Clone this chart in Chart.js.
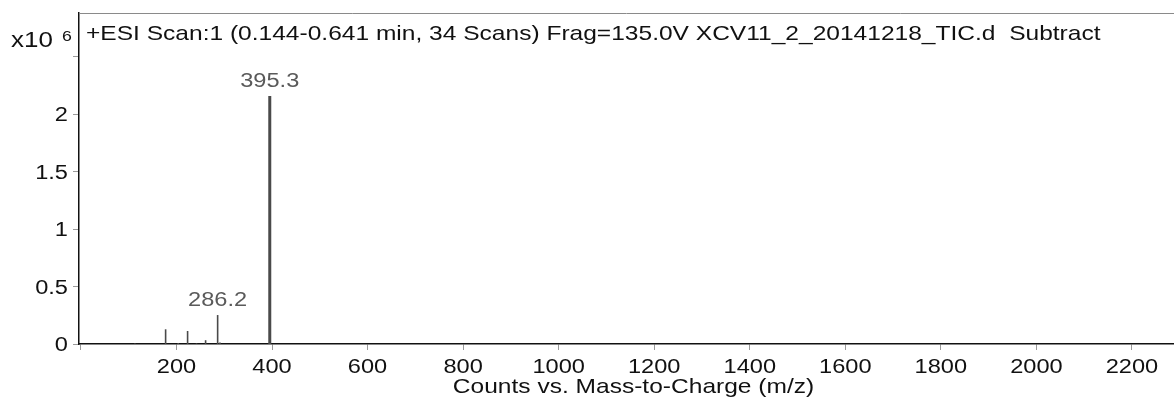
<!DOCTYPE html>
<html lang="en">
<head>
    <meta charset="UTF-8">
    <title>ESI Scan spectrum</title>
    <script src="https://cdn.jsdelivr.net/npm/chart.js"></script>
    <style>
        html, body { margin: 0; padding: 0; background: #fff; }
        #wrap { width: 1174px; height: 402px; }
    </style>
</head>
<body>
    <div id="wrap"><canvas id="spectro"></canvas></div>

    <script>
        // peak list (m/z, counts)
        const mzValues = [113, 177.3, 203.7, 223.3, 242, 261, 286.2, 291, 395.3];
        const counts = [5000, 128000, 8000, 113000, 5000, 33000, 252000, 12000, 2158000];
        // peaks that carry a label
        const labelledPeaks = [286.2, 395.3];

        const xTicks = [0, 200, 400, 600, 800, 1000, 1200, 1400, 1600, 1800, 2000, 2200];
        const yTicks = [0, 500000, 1000000, 1500000, 2000000, 2500000];
        const yTickLabels = ['0', '0.5', '1', '1.5', '2', ''];

        const titleText = '+ESI Scan:1 (0.144-0.641 min, 34 Scans) Frag=135.0V XCV11_2_20141218_TIC.d  Subtract';
        const xTitle = 'Counts vs. Mass-to-Charge (m/z)';

        const FONT = "'Liberation Sans', Arial, sans-serif";
        const STRETCH = 1.18;

        // each peak is a stick from 0 up to its height, broken by a null
        const stickPoints = [];
        mzValues.forEach((mz, i) => {
            stickPoints.push({ x: mz, y: 0 });
            stickPoints.push({ x: mz, y: counts[i] });
            stickPoints.push({ x: mz, y: null });
        });

        function wideText(ctx, txt, x, y, align, size, color) {
            ctx.save();
            ctx.font = size + 'px ' + FONT;
            ctx.fillStyle = color;
            ctx.textAlign = align;
            ctx.textBaseline = 'alphabetic';
            ctx.translate(x, y);
            ctx.scale(STRETCH, 1);
            ctx.fillText(txt, 0, 0);
            ctx.restore();
        }

        const textPlugin = {
            id: 'spectrumText',
            afterDraw(chart) {
                const ctx = chart.ctx;
                const area = chart.chartArea;
                const xs = chart.scales.x;
                const ys = chart.scales.y;

                // top frame line
                ctx.save();
                ctx.strokeStyle = '#8a8a8a';
                ctx.lineWidth = 1;
                ctx.beginPath();
                ctx.moveTo(area.left, area.top + 0.5);
                ctx.lineTo(area.right, area.top + 0.5);
                ctx.stroke();
                ctx.restore();

                // tick labels
                xTicks.forEach(v => {
                    if (v === 0) return;
                    wideText(ctx, String(v), xs.getPixelForValue(v), area.bottom + 29, 'center', 20, '#111');
                });
                yTicks.forEach((v, i) => {
                    if (!yTickLabels[i]) return;
                    wideText(ctx, yTickLabels[i], area.left - 11, ys.getPixelForValue(v) + 7, 'right', 20, '#111');
                });

                // multiplier
                wideText(ctx, 'x10', 11, 47, 'left', 22, '#111');
                wideText(ctx, '6', 62, 41, 'left', 15, '#111');

                // title inside the plot
                wideText(ctx, titleText, area.left + 7, 40, 'left', 20.8, '#111');

                // axis title
                wideText(ctx, xTitle, (area.left + area.right) / 2 + 7, 393, 'center', 20.8, '#111');

                // peak labels
                labelledPeaks.forEach(mz => {
                    const i = mzValues.indexOf(mz);
                    wideText(ctx, mz.toFixed(1), xs.getPixelForValue(mz), ys.getPixelForValue(counts[i]) - 9, 'center', 20, '#5a5a5a');
                });
            }
        };

        new Chart(document.getElementById('spectro'), {
            type: 'line',
            data: {
                datasets: [{
                    data: stickPoints,
                    borderColor: '#4a4a4a',
                    borderWidth: 2,
                    segment: {
                        // the big base peak is drawn a bit heavier
                        borderWidth: c => (c.p1.parsed.y > 1000000 ? 3 : 1.6)
                    },
                    pointRadius: 0,
                    spanGaps: false,
                    tension: 0
                }]
            },
            options: {
                responsive: true,
                maintainAspectRatio: false,
                animation: false,
                events: [],
                layout: { padding: { top: 13, right: 0, left: 0, bottom: 0 } },
                plugins: {
                    legend: { display: false },
                    tooltip: { enabled: false }
                },
                scales: {
                    x: {
                        type: 'linear',
                        min: -4,
                        max: 2288,
                        afterBuildTicks: s => { s.ticks = xTicks.map(v => ({ value: v })); },
                        afterFit: s => { s.height = 58; },
                        ticks: { display: false },
                        grid: { display: true, drawOnChartArea: false, drawTicks: true, tickLength: 6, color: '#9a9a9a' },
                        border: { display: true, color: '#111', width: 1.5 }
                    },
                    y: {
                        type: 'linear',
                        min: 0,
                        max: 2880000,
                        afterBuildTicks: s => { s.ticks = yTicks.map(v => ({ value: v })); },
                        afterFit: s => { s.width = 79; },
                        ticks: { display: false },
                        grid: { display: true, drawOnChartArea: false, drawTicks: true, tickLength: 6, color: '#9a9a9a' },
                        border: { display: true, color: '#111', width: 1.5 }
                    }
                }
            },
            plugins: [textPlugin]
        });
    </script>
</body>
</html>
